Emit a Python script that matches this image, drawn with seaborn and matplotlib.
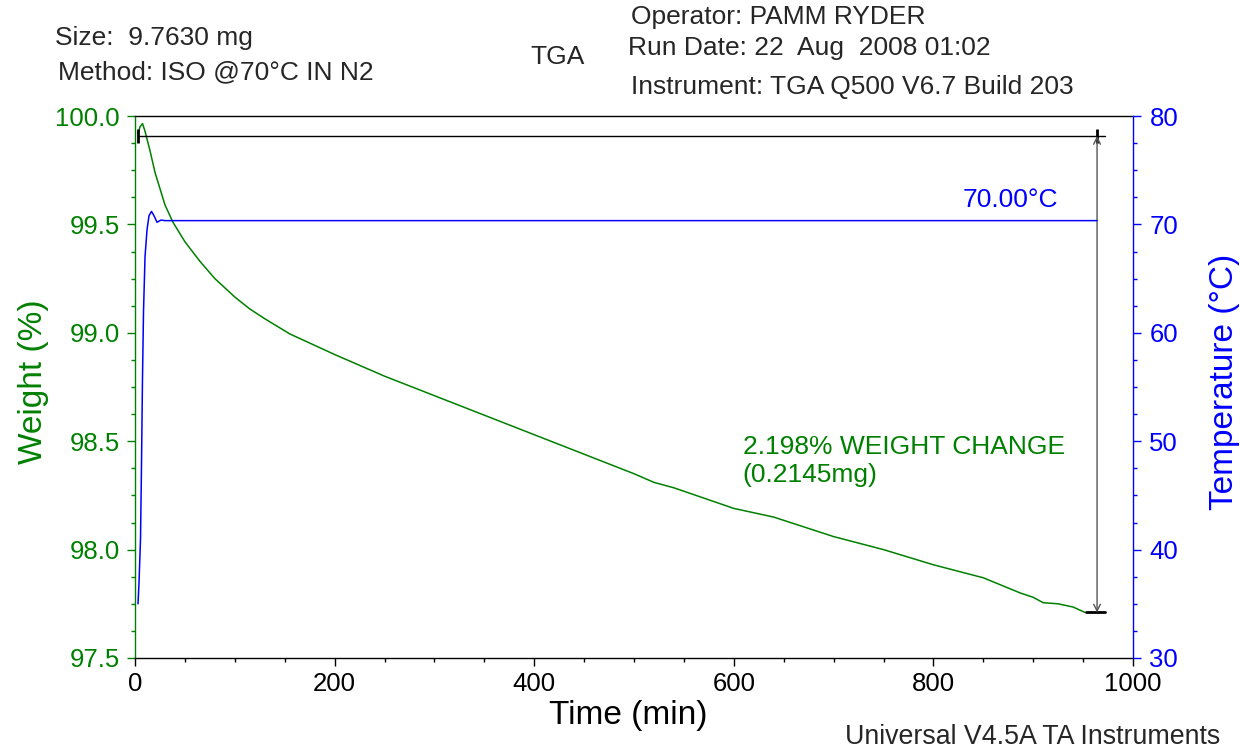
import matplotlib
matplotlib.use("Agg")
import matplotlib.pyplot as plt
import seaborn as sns
from matplotlib.ticker import MultipleLocator, FormatStrFormatter

# weight curve
time_w = [3, 5, 7.5, 10, 15, 20, 30, 38, 50, 65, 80, 100, 115, 130, 155, 200,
          250, 300, 350, 400, 450, 500, 520, 540, 600, 640, 660, 700, 750, 800,
          850, 887, 900, 910, 925, 940, 952]
weight = [99.92, 99.95, 99.965, 99.93, 99.84, 99.74, 99.59, 99.51, 99.42, 99.33,
          99.25, 99.165, 99.11, 99.065, 98.995, 98.90, 98.80, 98.71, 98.62, 98.53,
          98.44, 98.35, 98.31, 98.285, 98.19, 98.15, 98.12, 98.06, 98.00, 97.93,
          97.87, 97.80, 97.78, 97.755, 97.75, 97.735, 97.71]

# temperature curve
time_t = [3, 4, 5.5, 6.5, 7.5, 8.5, 10, 12, 14, 16.5, 19, 22, 26, 30, 964]
temp = [35.0, 37.0, 41.0, 48.0, 56.0, 62.0, 67.0, 69.5, 70.8, 71.2, 70.8, 70.2,
        70.4, 70.35, 70.35]

# step analysis
step_start = 3
step_end = 964
w_top = 99.908
w_bot = 97.710

green = "#008000"
blue = "#0000FF"

sns.set_style("ticks")
plt.rcParams["font.family"] = ["Liberation Sans", "DejaVu Sans"]

fig = plt.figure(figsize=(12.4, 7.49), dpi=100)
ax = fig.add_axes([0.1089, 0.1215, 0.8048, 0.7236])
ax2 = ax.twinx()

sns.lineplot(x=time_w, y=weight, ax=ax, color=green, lw=1.1, estimator=None, sort=False)
sns.lineplot(x=time_t, y=temp, ax=ax2, color=blue, lw=1.1, estimator=None, sort=False)

# step annotation
ax.plot([step_start, step_end + 8], [w_top, w_top], color="black", lw=1)
ax.plot([step_start], [w_top], marker="|", ms=10, mew=2, color="black")
ax.plot([step_end], [w_top], marker="|", ms=10, mew=2, color="black")
ax.plot([step_end - 11, step_end + 8], [w_bot, w_bot], color="black", lw=2)
ax.annotate("", xy=(step_end, w_top), xytext=(step_end, w_bot),
            arrowprops=dict(arrowstyle="<->", color="#555555", lw=1,
                            shrinkA=0, shrinkB=0, mutation_scale=12))

ax.text(609, 98.409, "2.198% WEIGHT CHANGE\n(0.2145mg)", color=green,
        fontsize=19, ha="left", va="center")
ax2.text(877, 72.25, "70.00°C", color=blue, fontsize=19, ha="center", va="center")

# axes
ax.set_xlim(0, 1000)
ax.set_ylim(97.5, 100.0)
ax2.set_ylim(30, 80)

ax.xaxis.set_major_locator(MultipleLocator(200))
ax.xaxis.set_minor_locator(MultipleLocator(50))
ax.yaxis.set_major_locator(MultipleLocator(0.5))
ax.yaxis.set_minor_locator(MultipleLocator(0.125))
ax.yaxis.set_major_formatter(FormatStrFormatter("%.1f"))
ax2.yaxis.set_major_locator(MultipleLocator(10))
ax2.yaxis.set_minor_locator(MultipleLocator(2.5))

ax.tick_params(axis="x", which="major", length=5.8, width=1, labelsize=18.5,
               colors="black", pad=4)
ax.tick_params(axis="x", which="minor", length=3.2, width=1, colors="black")
ax.tick_params(axis="y", which="major", length=5.8, width=1, labelsize=18.5,
               colors=green, pad=5)
ax.tick_params(axis="y", which="minor", length=3.2, width=1, colors=green)
ax2.tick_params(axis="y", which="major", length=5.8, width=1, labelsize=18.5,
                colors=blue, pad=6)
ax2.tick_params(axis="y", which="minor", length=3.2, width=1, colors=blue)

for s in ax.spines.values():
    s.set_linewidth(1)
ax.spines["left"].set_color(green)
ax.spines["bottom"].set_color("black")
ax.spines["top"].set_color("black")
ax.spines["right"].set_visible(False)
ax2.spines["left"].set_visible(False)
ax2.spines["bottom"].set_visible(False)
ax2.spines["top"].set_visible(False)
ax2.spines["right"].set_color(blue)
ax2.spines["right"].set_linewidth(1)

ax.set_xlabel("Time (min)", fontsize=24, color="black")
ax.set_ylabel("Weight (%)", fontsize=24, color=green)
ax2.set_ylabel("Temperature (°C)", fontsize=24, color=blue)
ax.xaxis.set_label_coords(0.494, -0.078)
ax.yaxis.set_label_coords(-0.086, 0.51)
ax2.yaxis.set_label_coords(1.076, 0.51)

# header / footer
fig.text(0.0444, 0.9493, "Size:  9.7630 mg", fontsize=19, va="center")
fig.text(0.0468, 0.9039, "Method: ISO @70°C IN N2", fontsize=19, va="center")
fig.text(0.4274, 0.9239, "TGA", fontsize=19, va="center")
fig.text(0.5089, 0.9773, "Operator: PAMM RYDER", fontsize=19, va="center")
fig.text(0.5065, 0.9359, "Run Date: 22  Aug  2008 01:02", fontsize=19, va="center")
fig.text(0.5089, 0.8838, "Instrument: TGA Q500 V6.7 Build 203", fontsize=19, va="center")
fig.text(0.6815, 0.016, "Universal V4.5A TA Instruments", fontsize=19.3, va="center")

plt.savefig("out.png", dpi=100)
